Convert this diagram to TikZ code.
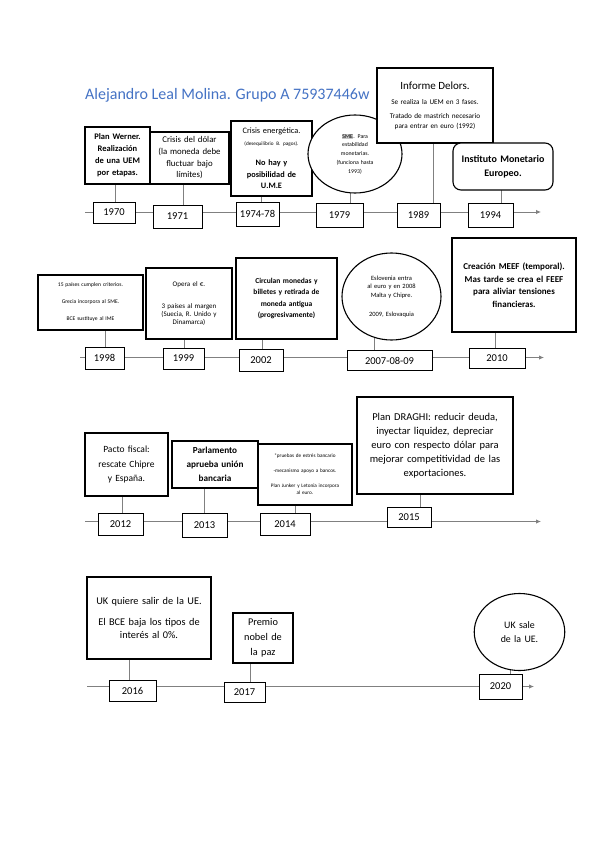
\documentclass[tikz,border=0pt]{standalone}
\usepackage{fontspec}
\setmainfont{Carlito}
\usetikzlibrary{shapes.geometric, arrows.meta, backgrounds}
\definecolor{titleblue}{HTML}{4472C4}
\definecolor{linegray}{HTML}{808080}
\newcommand{\setfs}[2]{\fontsize{#1}{#2}\selectfont}
\setlength{\fboxsep}{0.4pt}

\tikzset{
  yearbox/.style={rectangle, draw, line width=1pt, fill=white, inner sep=0pt, font=\setfs{10.5}{12}},
  eventbox/.style={rectangle, draw, line width=1.1pt, fill=white, align=center, inner sep=2pt},
  eventoval/.style={ellipse, draw, line width=1.1pt, fill=white, align=center, inner sep=0pt},
  link/.style={draw=linegray, line width=0.9pt},
  timeline/.style={draw=linegray, line width=0.9pt, -{Latex[length=5pt,width=4.5pt]}}
}

\begin{document}
\begin{tikzpicture}[x=1pt, y=-1pt]
\useasboundingbox (0,0) rectangle (599,848);

\node[anchor=base west, text=titleblue, font=\setfs{16}{18}, inner sep=0pt] (title) at (85,99.5) {Alejandro Leal Molina. Grupo A 75937446w};

% fila 1: 1970 - 1994
\coordinate (t1s) at (85,212);
\coordinate (t1e) at (541,212);
\node[yearbox, minimum width=42pt, minimum height=21pt] (y1970) at (114,212.5) {1970};
\node[yearbox, minimum width=49pt, minimum height=23pt] (y1971) at (177.5,216.5) {1971};
\node[yearbox, minimum width=43pt, minimum height=24pt] (y1974) at (257.5,214) {1974-78};
\node[yearbox, minimum width=47pt, minimum height=24pt] (y1979) at (339.5,215) {1979};
\node[yearbox, minimum width=43pt, minimum height=24pt] (y1989) at (418.5,215) {1989};
\node[yearbox, minimum width=45pt, minimum height=24pt] (y1994) at (490.5,215) {1994};

\node[eventbox, minimum width=65pt, minimum height=57pt, text width=60pt, font=\setfs{8.5}{12}\bfseries] (werner) at (117.5,155.5) {Plan Werner.\\Realización\\de una UEM\\por etapas.};
\node[eventbox, minimum width=79pt, minimum height=52pt, text width=75pt, font=\setfs{8.8}{11.7}] (dolar) at (189.5,158) {Crisis del dólar\\(la moneda debe\\fluctuar bajo\\límites)};
\node[eventbox, minimum width=81pt, minimum height=75pt, text width=77pt, font=\setfs{8.3}{11.7}] (energia) at (271.5,158.5) {Crisis energética.\\{\setfs{5.2}{11.7}(desequilibrio B. pagos).}\\[8pt]\textbf{No hay y}\\\textbf{posibilidad de}\\\textbf{U.M.E}};
\node[eventoval, minimum width=94pt, minimum height=78pt, text width=64pt, font=\setfs{5.8}{8.7}] (sme) at (355,154) {\colorbox{gray!45}{SME}. Para\\estabilidad\\monetarias.\\(funciona hasta\\1993)};
\node[eventbox, minimum width=116pt, minimum height=75pt, text width=112pt, font=\setfs{7.2}{9.3}] (delors) at (435,105.5) {{\setfs{11}{12}Informe Delors.}\\[6pt]Se realiza la UEM en 3 fases.\\[5pt]Tratado de mastrich necesario\\para entrar en euro (1992)};
\node[eventbox, rounded corners=8pt, minimum width=100pt, minimum height=47pt, text width=96pt, font=\setfs{10}{14}\bfseries] (imonet) at (503,166.5) {Instituto Monetario\\Europeo.};

% fila 2: 1998 - 2010
\coordinate (t2s) at (80,357.5);
\coordinate (t2e) at (544,357.5);
\node[yearbox, minimum width=39pt, minimum height=22pt] (y1998) at (104.5,358) {1998};
\node[yearbox, minimum width=41pt, minimum height=21pt] (y1999) at (183.5,358.5) {1999};
\node[yearbox, minimum width=44pt, minimum height=22pt] (y2002) at (261,360) {2002};
\node[yearbox, minimum width=85pt, minimum height=20pt] (y2007) at (389.5,360.5) {2007-08-09};
\node[yearbox, minimum width=56pt, minimum height=20pt] (y2010) at (497,358) {2010};

\node[eventbox, minimum width=105pt, minimum height=55pt, text width=100pt, font=\setfs{5.6}{17}] (e1998) at (90.5,302.5) {15 países cumplen criterios.\\Grecia incorpora al SME.\\BCE sustituye al IME};
\node[eventbox, minimum width=86pt, minimum height=71pt, text width=82pt, font=\setfs{7}{8.2}] (e1999) at (189,303.5) {Opera el €.\\[14pt]3 países al margen\\(Suecia, R. Unido y\\Dinamarca)};
\node[eventbox, minimum width=101pt, minimum height=81pt, text width=97pt, font=\setfs{7.5}{11.4}\bfseries] (e2002) at (286.5,298.5) {Circulan monedas y\\billetes y retirada de\\moneda antigua\\(progresivamente)};
\node[eventoval, minimum width=93pt, minimum height=87pt, text width=70pt, font=\setfs{6.5}{8.7}] (e2007) at (391.5,296.5) {Eslovenia entra\\al euro y en 2008\\Malta y Chipre.\\[10pt]2009, Eslovaquia};
\node[eventbox, minimum width=124pt, minimum height=94pt, text width=120pt, font=\setfs{9}{12.5}\bfseries] (e2010) at (514,285) {Creación MEEF (temporal).\\Mas tarde se crea el FEEF\\para aliviar tensiones\\financieras.};

% fila 3: 2012 - 2015
\coordinate (t3s) at (85,521.5);
\coordinate (t3e) at (541,521.5);
\node[yearbox, minimum width=45pt, minimum height=22pt] (y2012) at (120.5,524) {2012};
\node[yearbox, minimum width=45pt, minimum height=24pt] (y2013) at (204.5,525) {2013};
\node[yearbox, minimum width=50pt, minimum height=22pt] (y2014) at (285,524) {2014};
\node[yearbox, minimum width=44pt, minimum height=20pt] (y2015) at (409,517.5) {2015};

\node[eventbox, minimum width=83pt, minimum height=63pt, text width=79pt, font=\setfs{9.5}{14.2}] (e2012) at (126.5,464.5) {Pacto fiscal:\\rescate Chipre\\y España.};
\node[eventbox, minimum width=86pt, minimum height=47pt, text width=82pt, font=\setfs{9.2}{13.8}\bfseries] (e2013) at (215,464.5) {Parlamento\\aprueba unión\\bancaria};
\node[eventbox, minimum width=94pt, minimum height=61pt, text width=90pt, font=\setfs{5.2}{7}] (e2014) at (305,474.5) {*pruebas de estrés bancario\\[8pt]-mecanismo apoyo a bancos.\\[8pt]Plan Junker y Letonia incorpora\\al euro.};
\node[eventbox, minimum width=156pt, minimum height=97pt, text width=152pt, font=\setfs{10.5}{14}] (e2015) at (435,445.5) {Plan DRAGHI: reducir deuda,\\inyectar liquidez, depreciar\\euro con respecto dólar para\\mejorar competitividad de las\\exportaciones.};

% fila 4: 2016 - 2020
\coordinate (t4s) at (87,686.5);
\coordinate (t4e) at (534,686.5);
\node[yearbox, minimum width=47pt, minimum height=21pt] (y2016) at (132.5,690.5) {2016};
\node[yearbox, minimum width=41pt, minimum height=20pt] (y2017) at (244.5,692) {2017};
\node[yearbox, minimum width=43pt, minimum height=25pt] (y2020) at (500.5,686.5) {2020};

\node[eventbox, minimum width=124pt, minimum height=82pt, text width=120pt, font=\setfs{10.3}{13.3}] (e2016) at (149,618) {UK quiere salir de la UE.\\[8pt]El BCE baja los tipos de\\interés al 0\%.};
\node[eventbox, minimum width=60pt, minimum height=50pt, text width=56pt, font=\setfs{10.3}{15}] (e2017) at (263,638) {Premio\\nobel de\\la paz};
\node[eventoval, minimum width=79pt, minimum height=77pt, text width=64pt, font=\setfs{9.9}{14}] (e2020) at (519.5,632) {UK sale\\de la UE.};

\begin{pgfonlayer}{background}
\draw[timeline] (t1s) -- (t1e);
\draw[timeline] (t2s) -- (t2e);
\draw[timeline] (t3s) -- (t3e);
\draw[timeline] (t4s) -- (t4e);
\foreach \yr/\ev/\dx in {y1970/werner/1, y1971/dolar/5.5, y1974/energia/4, y1979/sme/10.5, y1989/delors/14.5, y1994/imonet/11,
    y1998/e1998/0.5, y1999/e1999/0.5, y2002/e2002/1, y2007/e2007/-15.5, y2010/e2010/-2,
    y2012/e2012/2, y2013/e2013/-0.5, y2014/e2014/10, y2015/e2015/11,
    y2016/e2016/-3, y2017/e2017/6, y2020/e2020/10}
  \draw[link] ([xshift=\dx pt]\yr.north) -- ([xshift=\dx pt]\yr.north |- \ev.center);
\end{pgfonlayer}
\end{tikzpicture}
\end{document}
